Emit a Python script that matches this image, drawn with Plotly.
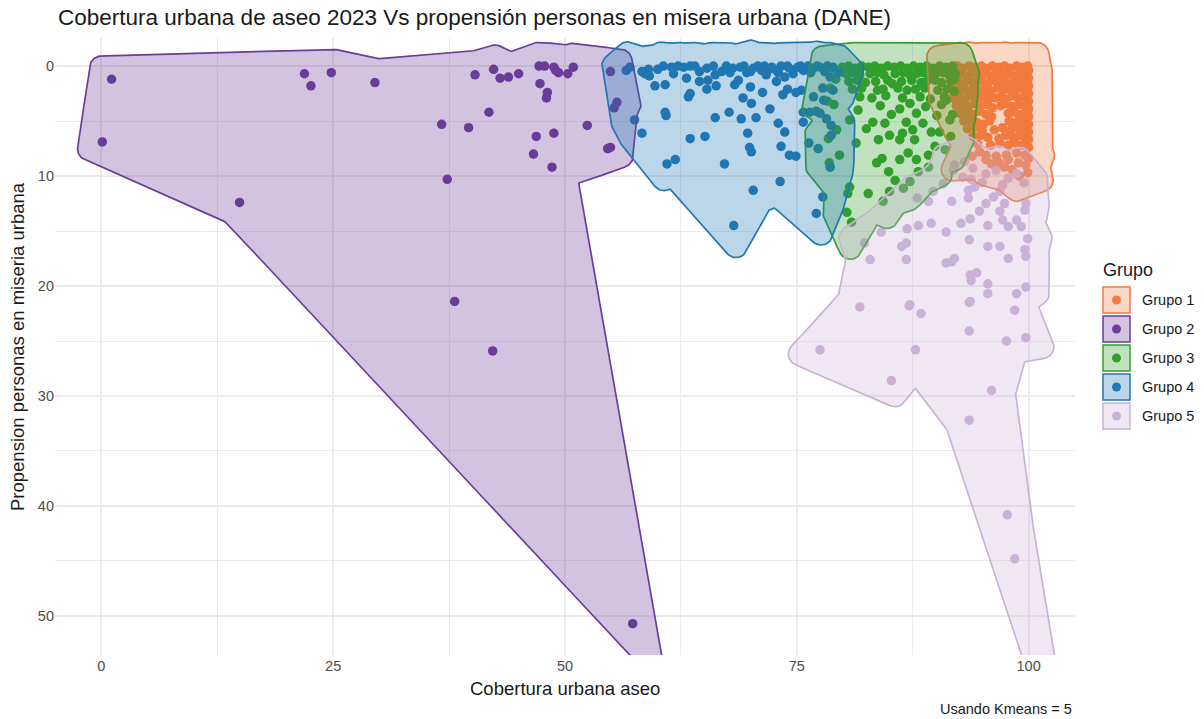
import math
from collections import deque

import numpy as np
import plotly.graph_objects as go

# ---------------------------------------------------------------------------
# Data: (cobertura urbana aseo, propension personas en miseria urbana)
# ---------------------------------------------------------------------------
grupo1 = [
    (91.6, 0.1), (92.3, 0.0), (92.9, 0.2), (93.6, 0.0), (94.2, 0.1), (94.9, 0.0), (95.5, 0.2),
    (96.1, 0.0), (96.8, 0.1), (97.4, 0.0), (98.0, 0.2), (98.7, 0.0), (99.3, 0.1), (99.9, 0.0),
    (100.0, 0.4), (91.9, 0.8), (92.6, 0.7), (93.3, 0.9), (93.9, 0.6), (94.6, 0.8), (95.2, 0.7),
    (95.9, 0.9), (96.5, 0.6), (97.1, 0.8), (97.8, 0.7), (98.4, 0.9), (99.0, 0.6), (99.6, 0.8),
    (100.0, 1.1), (91.7, 1.5), (92.4, 1.4), (93.0, 1.6), (93.7, 1.3), (94.3, 1.5), (95.0, 1.4),
    (95.6, 1.6), (96.3, 1.3), (96.9, 1.5), (97.5, 1.4), (98.2, 1.6), (98.8, 1.3), (99.4, 1.5),
    (100.0, 1.8), (92.0, 2.2), (92.7, 2.1), (93.4, 2.3), (94.0, 2.0), (94.6, 2.2), (95.3, 2.1),
    (95.9, 2.3), (96.6, 2.0), (97.2, 2.2), (97.8, 2.1), (98.5, 2.3), (99.1, 2.0), (99.7, 2.2),
    (100.0, 2.5), (91.8, 2.9), (92.5, 2.8), (93.2, 3.0), (93.8, 2.7), (94.4, 2.9), (95.1, 2.8),
    (95.7, 3.0), (96.4, 2.9), (97.0, 2.8), (97.6, 3.0), (98.3, 2.7), (98.9, 2.9), (99.5, 2.8),
    (100.0, 3.2), (92.2, 3.6), (92.9, 3.5), (93.5, 3.7), (94.2, 3.4), (94.8, 3.6), (95.5, 3.5),
    (96.1, 3.8), (97.0, 3.6), (97.6, 3.4), (98.3, 3.7), (98.9, 3.5), (99.6, 3.6), (100.0, 3.9),
    (92.6, 4.3), (93.3, 4.2), (94.0, 4.4), (94.7, 4.1), (95.4, 4.4), (96.0, 4.6), (97.8, 4.3),
    (98.5, 4.2), (99.1, 4.4), (99.7, 4.1), (100.0, 4.6), (93.0, 5.0), (93.7, 4.9), (94.4, 5.1),
    (95.1, 5.3), (95.8, 5.0), (97.9, 5.0), (98.4, 5.2), (99.0, 4.9), (99.6, 5.1), (100.0, 5.3),
    (93.4, 5.7), (94.2, 5.6), (95.0, 5.9), (96.3, 5.8), (97.2, 5.6), (98.1, 5.8), (98.8, 5.6),
    (99.4, 5.8), (100.0, 6.0), (94.0, 6.4), (94.8, 6.3), (95.6, 6.5), (96.8, 6.6), (97.5, 6.3),
    (98.3, 6.5), (99.0, 6.3), (99.6, 6.5), (100.0, 6.7), (94.5, 7.1), (95.9, 7.2), (96.9, 7.0),
    (97.8, 7.2), (98.6, 7.0), (99.3, 7.2), (100.0, 7.4), (94.7, 7.8), (95.4, 8.1), (96.5, 8.2),
    (97.6, 8.1), (98.7, 7.9), (99.6, 8.1), (100.0, 8.4), (93.9, 8.2), (95.4, 8.5), (96.8, 8.8),
    (97.8, 8.5), (98.9, 8.8), (99.7, 9.0), (96.0, 8.9), (98.2, 9.4), (99.0, 10.0), (99.9, 9.7),
    (97.4, 9.2),
]

grupo2 = [
    (0.1, 6.9), (1.1, 1.2), (14.9, 12.4), (21.9, 0.7), (22.6, 1.8), (24.8, 0.6), (29.5, 1.5),
    (36.7, 5.3), (37.3, 10.3), (38.1, 21.4), (39.6, 5.6), (40.3, 0.8), (41.8, 4.2), (42.2, 25.9),
    (42.3, 0.3), (43.0, 1.1), (43.9, 1.0), (45.0, 0.7), (46.6, 8.0), (46.9, 6.4), (47.2, 0.0),
    (47.8, 0.0), (47.3, 1.6), (48.1, 2.4), (48.0, 2.9), (48.6, 9.2), (48.8, 6.1), (48.8, 0.1),
    (49.0, 0.4), (49.3, 0.6), (50.3, 0.7), (50.9, 0.1), (52.4, 5.4), (54.6, 7.5), (54.9, 7.4),
    (54.9, 0.5), (55.3, 3.8), (55.6, 3.3), (57.3, 50.7),
]

grupo3 = [
    (79.9, 0.1), (80.6, 0.0), (81.3, 0.2), (82.0, 0.0), (82.7, 0.1), (83.4, 0.0), (84.1, 0.2),
    (84.8, 0.0), (85.5, 0.1), (86.2, 0.0), (86.9, 0.2), (87.6, 0.0), (88.3, 0.1), (89.0, 0.0),
    (89.7, 0.2), (90.4, 0.0), (91.1, 0.1), (91.8, 0.0), (80.3, 0.7), (81.0, 0.6),
    (81.8, 0.8), (82.9, 0.7), (83.7, 0.6), (84.4, 0.8), (85.6, 0.7), (86.5, 0.6), (87.2, 0.8),
    (87.9, 0.7), (88.6, 0.6), (89.3, 0.8), (90.0, 0.7), (90.8, 0.6), (91.4, 0.8), (92.1, 0.7),
    (80.6, 1.4), (81.5, 1.3), (82.4, 1.5), (83.5, 1.4), (84.8, 1.3), (85.3, 1.6), (86.3, 1.4),
    (87.4, 1.3), (88.4, 1.5), (89.0, 1.4), (89.9, 1.3), (90.6, 1.5), (91.6, 1.4), (92.0, 1.2),
    (81.0, 2.1), (82.0, 2.0), (83.7, 2.2), (84.3, 2.1), (85.9, 2.0), (86.9, 2.2), (87.8, 2.1),
    (88.8, 2.0), (90.2, 2.2), (91.2, 2.1), (92.0, 2.3), (81.8, 2.8), (83.1, 2.9), (84.6, 2.7),
    (86.4, 2.9), (87.2, 3.4), (88.3, 2.8), (89.4, 3.0), (90.9, 2.8), (91.1, 3.1), (81.6, 4.0),
    (80.7, 4.9), (83.2, 5.1), (84.5, 5.2), (82.5, 5.7), (86.1, 3.9), (87.9, 4.3), (86.8, 5.1),
    (86.4, 6.1), (87.5, 5.8), (88.6, 5.2), (89.5, 6.0), (81.4, 7.0), (83.8, 6.7), (85.0, 6.3),
    (86.1, 6.7), (87.7, 6.7), (84.2, 8.4), (83.6, 8.8), (84.9, 9.6), (86.1, 8.5), (87.0, 7.9),
    (90.4, 6.0), (91.5, 4.9), (90.1, 4.5), (91.8, 4.4), (82.7, 11.6), (80.7, 11.0), (80.5, 11.6),
    (80.4, 13.3), (79.6, 8.1), (85.6, 10.4), (86.5, 11.1), (87.2, 10.5), (85.0, 11.4), (84.3, 12.3),
    (88.1, 9.6), (89.2, 9.2), (87.9, 8.5), (89.2, 8.1), (80.9, 14.2), (79.3, 5.8), (79.0, 3.5),
    (78.6, 2.0), (79.2, 1.2), (84.0, 3.6), (85.2, 4.4), (88.9, 3.7), (90.6, 3.5), (89.9, 7.3),
    (91.0, 7.6), (91.6, 6.4), (78.9, 0.2), (78.3, 3.2), (78.4, 6.6), (78.5, 8.8),
]

grupo4 = [
    (56.6, 0.4), (57.0, 0.1), (58.3, 0.5), (58.6, 0.7), (59.0, 0.3), (59.1, 0.9), (60.0, 0.3),
    (60.6, 0.0), (61.5, 0.1), (61.7, 0.7), (62.2, 0.0), (62.8, 0.1), (63.5, 0.0), (63.1, 1.1),
    (64.0, 0.0), (64.5, 0.5), (65.3, 0.2), (65.4, 1.3), (66.0, 0.0), (66.2, 0.8), (66.9, 0.5),
    (67.4, 0.0), (67.8, 0.6), (68.1, 0.2), (68.9, 0.1), (68.7, 1.3), (69.3, 0.0), (69.6, 0.6),
    (70.0, 0.5), (70.3, 0.2), (70.8, 0.0), (71.2, 0.4), (71.5, 0.0), (71.7, 0.8), (72.0, 0.3),
    (72.3, 0.1), (72.8, 0.4), (73.0, 0.6), (73.3, 0.0), (73.7, 1.0), (74.0, 0.0), (74.2, 0.2),
    (74.6, 0.7), (75.1, 0.1), (75.4, 0.0), (75.7, 0.4), (76.2, 0.0), (76.5, 0.6), (76.8, 0.2),
    (77.2, 0.0), (77.5, 0.1), (78.0, 0.5), (78.3, 0.0), (78.6, 1.0), (78.9, 0.1), (79.5, 0.6),
    (59.7, 1.8), (60.8, 1.7), (63.5, 2.5), (63.3, 2.8), (64.5, 1.4), (65.3, 2.1), (66.3, 1.8),
    (68.3, 1.7), (70.0, 1.9), (71.3, 2.4), (72.8, 1.4), (73.5, 2.6), (74.0, 2.1), (74.9, 2.4),
    (75.5, 2.2), (77.8, 2.0), (78.9, 2.2), (69.2, 2.9), (70.1, 3.4), (76.8, 2.8), (77.9, 3.1),
    (69.0, 4.8), (66.2, 4.7), (67.7, 4.2), (70.6, 4.7), (72.1, 3.9), (73.0, 5.2), (73.7, 6.0),
    (75.7, 4.2), (75.7, 5.1), (69.7, 6.1), (60.8, 4.2), (60.9, 4.5), (57.5, 4.9), (58.3, 6.1),
    (63.5, 6.6), (65.1, 6.4), (61.0, 8.9), (61.9, 8.5), (67.2, 8.9), (70.1, 7.8), (69.9, 7.4),
    (73.3, 7.3), (74.2, 8.1), (74.9, 8.2), (73.2, 10.5), (70.3, 11.3), (68.2, 14.5), (77.1, 13.4),
    (77.8, 11.9), (76.3, 7.0), (77.3, 7.5), (78.6, 9.2), (76.4, 4.2), (77.5, 4.3), (78.2, 4.8),
    (77.1, 4.1), (78.7, 5.4), (78.7, 6.3),
]

grupo5 = [
    (92.0, 9.0), (91.9, 9.5), (90.8, 10.7), (89.7, 11.4), (88.0, 12.0), (89.2, 12.3), (91.7, 12.3),
    (92.9, 10.1), (93.8, 10.3), (93.5, 11.3), (93.5, 12.0), (94.7, 13.2), (95.4, 12.5), (96.2, 11.9),
    (96.9, 11.4), (97.2, 10.8), (97.4, 12.5), (96.9, 13.2), (97.2, 14.0), (97.8, 14.6), (98.7, 14.0),
    (99.2, 14.6), (99.6, 13.1), (99.7, 12.5), (99.9, 15.7), (99.6, 16.7), (99.7, 17.3), (97.8, 17.5),
    (96.9, 16.4), (95.6, 16.4), (95.6, 14.5), (93.7, 13.9), (92.7, 14.3), (93.6, 15.8), (91.1, 15.1),
    (89.5, 14.3), (88.1, 14.5), (86.9, 14.8), (86.8, 16.1), (86.3, 16.4), (84.1, 15.1), (82.3, 16.1),
    (82.9, 17.6), (86.8, 17.6), (91.1, 17.9), (91.7, 17.8), (92.0, 17.5), (93.7, 19.0), (94.4, 18.8),
    (93.8, 19.5), (95.6, 19.8), (95.6, 20.7), (93.7, 21.4), (98.7, 20.7), (99.7, 20.1), (87.2, 21.7),
    (81.8, 21.9), (87.1, 21.8), (88.4, 22.5), (93.6, 21.5), (98.5, 22.2), (93.6, 24.1), (97.6, 25.0),
    (99.7, 24.7), (77.5, 25.8), (87.8, 25.8), (85.2, 28.6), (96.0, 29.5), (93.6, 32.2), (97.7, 40.8),
    (98.5, 44.8), (93.1, 8.7), (94.0, 9.3), (95.4, 9.8), (96.5, 9.5), (97.8, 10.2), (98.7, 9.8),
    (99.5, 10.6), (95.0, 10.6), (94.2, 11.0),
]

GROUP_NAMES = ["Grupo 1", "Grupo 2", "Grupo 3", "Grupo 4", "Grupo 5"]
GROUP_POINTS = [grupo1, grupo2, grupo3, grupo4, grupo5]
GROUP_COLORS = ["#F37A3F", "#6A3D9A", "#33A02C", "#1F78B4", "#CAB2D6"]

X_TICKS = [0, 25, 50, 75, 100]
Y_TICKS = [0, 10, 20, 30, 40, 50]

TITLE = "Cobertura urbana de aseo 2023 Vs propensión personas en misera urbana (DANE)"
X_TITLE = "Cobertura urbana aseo"
Y_TITLE = "Propension personas en miseria urbana"
CAPTION = "Usando Kmeans = 5"
LEGEND_TITLE = "Grupo"

# ---------------------------------------------------------------------------
# Page geometry
# ---------------------------------------------------------------------------
W, H = 1204, 719
ML, MR, MT, MB = 55, 129, 38, 64
PW, PH = W - ML - MR, H - MT - MB
X_RANGE = [-5.0, 105.0]
Y_RANGE = [53.55, -2.55]          # reversed axis
SX = PW / (X_RANGE[1] - X_RANGE[0])
SY = PH / (Y_RANGE[0] - Y_RANGE[1])

# panel limits in the (px, y-up) frame used for hull geometry
PX0, PX1 = X_RANGE[0] * SX, X_RANGE[1] * SX
PY0, PY1 = -Y_RANGE[0] * SY, -Y_RANGE[1] * SY

EXPAND = 23.5     # hull expansion (px)
RADIUS = 11.8     # hull corner radius (px)
CONCAVITY = 2.0
GRID_STEP = 1.25
FONT = "Liberation Sans, Arial, sans-serif"


def paper(px, py):
    return (px - ML) / PW, (H - MB - py) / PH


def rgba(hex_color, a):
    h = hex_color.lstrip("#")
    r, g, b = (int(h[i:i + 2], 16) for i in (0, 2, 4))
    return f"rgba({r},{g},{b},{a})"


# ---------------------------------------------------------------------------
# Concave hull (concaveman style)
# ---------------------------------------------------------------------------
def seg_dist2(Q, a, b):
    ab = b - a
    L = float(ab @ ab)
    if L <= 0:
        d = Q - a
        return (d * d).sum(1)
    t = np.clip(((Q - a) @ ab) / L, 0.0, 1.0)
    d = Q - (a + t[:, None] * ab)
    return (d * d).sum(1)


def convex_hull(P):
    order = sorted(range(len(P)), key=lambda i: (P[i][0], P[i][1]))

    def cross(o, a, b):
        return (P[a][0] - P[o][0]) * (P[b][1] - P[o][1]) - (P[a][1] - P[o][1]) * (P[b][0] - P[o][0])

    lower, upper = [], []
    for i in order:
        while len(lower) >= 2 and cross(lower[-2], lower[-1], i) <= 0:
            lower.pop()
        lower.append(i)
    for i in reversed(order):
        while len(upper) >= 2 and cross(upper[-2], upper[-1], i) <= 0:
            upper.pop()
        upper.append(i)
    return lower[:-1] + upper[:-1]


def crosses(p, q, skip, S0, S1, I0, I1):
    m = (I0 != skip) & (I1 != skip)
    if not m.any():
        return False
    A, B = S0[m], S1[m]
    o1 = (B[:, 0] - A[:, 0]) * (p[1] - A[:, 1]) - (B[:, 1] - A[:, 1]) * (p[0] - A[:, 0])
    o2 = (B[:, 0] - A[:, 0]) * (q[1] - A[:, 1]) - (B[:, 1] - A[:, 1]) * (q[0] - A[:, 0])
    o3 = (q[0] - p[0]) * (A[:, 1] - p[1]) - (q[1] - p[1]) * (A[:, 0] - p[0])
    o4 = (q[0] - p[0]) * (B[:, 1] - p[1]) - (q[1] - p[1]) * (B[:, 0] - p[0])
    return bool(np.any(((o1 > 0) != (o2 > 0)) & ((o3 > 0) != (o4 > 0))))


def concave_hull(P, concavity=CONCAVITY):
    n = len(P)
    hull = convex_hull(P)
    nxt, prv = {}, {}
    for k, h in enumerate(hull):
        nxt[h] = hull[(k + 1) % len(hull)]
        prv[h] = hull[k - 1]
    free = np.ones(n, bool)
    free[hull] = False
    queue = deque(hull)
    sqc = concavity ** 2
    while queue:
        ai = queue.popleft()
        bi = nxt[ai]
        a, b = P[ai], P[bi]
        maxsq = float(((b - a) ** 2).sum()) / sqc
        cand = np.nonzero(free)[0]
        if cand.size == 0:
            break
        dist = seg_dist2(P[cand], a, b)
        keep = dist <= maxsq
        cand, dist = cand[keep], dist[keep]
        if cand.size == 0:
            continue
        d0 = seg_dist2(P[cand], P[prv[ai]], a)
        d1 = seg_dist2(P[cand], b, P[nxt[bi]])
        ok = (dist < d0) & (dist < d1)
        cand, dist = cand[ok], dist[ok]
        if cand.size == 0:
            continue
        ids = [ai]
        j = nxt[ai]
        while j != ai:
            ids.append(j)
            j = nxt[j]
        I0 = np.array(ids)
        I1 = np.array([nxt[i] for i in ids])
        S0, S1 = P[I0], P[I1]
        found = None
        for k in np.argsort(dist, kind="stable"):
            pi = cand[k]
            p = P[pi]
            if not crosses(a, p, ai, S0, S1, I0, I1) and not crosses(b, p, bi, S0, S1, I0, I1):
                found = pi
                break
        if found is None:
            continue
        p = P[found]
        if min(((p - a) ** 2).sum(), ((p - b) ** 2).sum()) <= maxsq:
            nxt[ai] = found
            prv[found] = ai
            nxt[found] = bi
            prv[bi] = found
            free[found] = False
            queue.append(ai)
            queue.append(found)
    out = [hull[0]]
    j = nxt[hull[0]]
    while j != hull[0]:
        out.append(j)
        j = nxt[j]
    return out


# ---------------------------------------------------------------------------
# Expanded outline: miter expansion + rounded corners, traced as an iso-line
# ---------------------------------------------------------------------------
def poly_dist_inside(G, poly):
    n = len(poly)
    dmin = np.full(len(G), np.inf)
    inside = np.zeros(len(G), bool)
    gx, gy = G[:, 0], G[:, 1]
    with np.errstate(divide="ignore", invalid="ignore"):
        for i in range(n):
            a, b = poly[i], poly[(i + 1) % n]
            dmin = np.minimum(dmin, seg_dist2(G, a, b))
            cond = (a[1] > gy) != (b[1] > gy)
            xint = a[0] + (gy - a[1]) * (b[0] - a[0]) / (b[1] - a[1])
            inside ^= cond & (gx < xint)
    return np.sqrt(dmin), inside


def iso_loops(Z, xs, ys):
    ins = Z < 0
    c0, c1, c2, c3 = ins[:-1, :-1], ins[:-1, 1:], ins[1:, 1:], ins[1:, :-1]
    code = c0 * 1 + c1 * 2 + c2 * 4 + c3 * 8
    js, iis = np.nonzero((code != 0) & (code != 15))
    adj = {}

    def link(e1, e2):
        adj.setdefault(e1, []).append(e2)
        adj.setdefault(e2, []).append(e1)

    for j, i in zip(js.tolist(), iis.tolist()):
        cd = code[j, i]
        B, R, T, L = ("h", j, i), ("v", j, i + 1), ("h", j + 1, i), ("v", j, i)
        if cd in (5, 10):
            centre = (Z[j, i] + Z[j, i + 1] + Z[j + 1, i + 1] + Z[j + 1, i]) / 4 < 0
            if (cd == 5) == centre:
                link(B, R)
                link(L, T)
            else:
                link(L, B)
                link(R, T)
            continue
        es = []
        if c0[j, i] != c1[j, i]:
            es.append(B)
        if c1[j, i] != c2[j, i]:
            es.append(R)
        if c3[j, i] != c2[j, i]:
            es.append(T)
        if c0[j, i] != c3[j, i]:
            es.append(L)
        link(es[0], es[1])

    def pt(e):
        kind, j, i = e
        if kind == "h":
            za, zb = Z[j, i], Z[j, i + 1]
            t = za / (za - zb)
            return xs[i] + t * (xs[i + 1] - xs[i]), ys[j]
        za, zb = Z[j, i], Z[j + 1, i]
        t = za / (za - zb)
        return xs[i], ys[j] + t * (ys[j + 1] - ys[j])

    loops, seen = [], set()
    for start in adj:
        if start in seen:
            continue
        loop, prev, cur = [start], None, start
        seen.add(start)
        while True:
            nx_ = None
            for e in adj[cur]:
                if e != prev and e not in seen:
                    nx_ = e
                    break
            if nx_ is None:
                break
            seen.add(nx_)
            loop.append(nx_)
            prev, cur = cur, nx_
        if len(loop) > 3:
            loops.append(np.array([pt(e) for e in loop]))
    return loops


def hull_path(points):
    xy = np.array(points, float)
    P = np.column_stack([xy[:, 0] * SX, -xy[:, 1] * SY])
    poly = P[concave_hull(P)]
    area = 0.5 * np.sum(poly[:, 0] * np.roll(poly[:, 1], -1) - np.roll(poly[:, 0], -1) * poly[:, 1])
    if area < 0:
        poly = poly[::-1]

    # miter corners (expansion EXPAND - RADIUS) at convex vertices
    w = EXPAND - RADIUS
    kites = []
    n = len(poly)
    for i in range(n):
        v, a, b = poly[i], poly[i - 1], poly[(i + 1) % n]
        t1, t2 = v - a, b - v
        l1, l2 = np.hypot(*t1), np.hypot(*t2)
        if l1 < 1e-9 or l2 < 1e-9:
            continue
        t1, t2 = t1 / l1, t2 / l2
        if t1[0] * t2[1] - t1[1] * t2[0] > 0 and t1 @ t2 < math.cos(math.radians(15)):
            n1 = np.array([t1[1], -t1[0]])
            n2 = np.array([t2[1], -t2[0]])
            m = v + w * (n1 + n2) / max(1.0 + n1 @ n2, 1e-3)
            kites.append(np.array([v, v + w * n1, m, v + w * n2]))

    allp = np.vstack([poly] + kites)
    x0 = max(allp[:, 0].min() - EXPAND - 6, PX0 - 8)
    x1 = min(allp[:, 0].max() + EXPAND + 6, PX1 + 8)
    y0 = max(allp[:, 1].min() - EXPAND - 6, PY0 - 8)
    y1 = min(allp[:, 1].max() + EXPAND + 6, PY1 + 8)
    xs = np.arange(x0, x1 + GRID_STEP, GRID_STEP)
    ys = np.arange(y0, y1 + GRID_STEP, GRID_STEP)
    GX, GY = np.meshgrid(xs, ys)
    G = np.column_stack([GX.ravel(), GY.ravel()])

    d, ins = poly_dist_inside(G, poly)
    f = np.where(ins, -d - EXPAND, d - EXPAND)
    for K in kites:
        dk, ik = poly_dist_inside(G, K)
        f = np.minimum(f, np.where(ik, -dk - RADIUS, dk - RADIUS))
    Z = f.reshape(GX.shape)
    Z[0, :] = Z[-1, :] = 1.0
    Z[:, 0] = Z[:, -1] = 1.0

    hx, hy = [], []
    for lp in iso_loops(Z, xs, ys):
        lp = np.vstack([lp, lp[:1]])
        hx += (lp[:, 0] / SX).tolist() + [None]
        hy += (-lp[:, 1] / SY).tolist() + [None]
    return hx, hy


# ---------------------------------------------------------------------------
# Figure
# ---------------------------------------------------------------------------
fig = go.Figure()

for name, pts, col in zip(GROUP_NAMES, GROUP_POINTS, GROUP_COLORS):
    fig.add_trace(go.Scatter(
        x=[p[0] for p in pts], y=[p[1] for p in pts], mode="markers", name=name,
        marker=dict(size=9.5, color=col, line=dict(width=0)),
        showlegend=False, hoverinfo="skip",
    ))

for name, pts, col in zip(GROUP_NAMES, GROUP_POINTS, GROUP_COLORS):
    hx, hy = hull_path(pts)
    fig.add_trace(go.Scatter(
        x=hx, y=hy, mode="lines", fill="toself", fillcolor=rgba(col, 0.3),
        line=dict(color=col, width=1.7), name=name, showlegend=False, hoverinfo="skip",
    ))

grid = "#EBEBEB"
axis_common = dict(
    showgrid=True, gridcolor=grid, gridwidth=1.6, zeroline=False, showline=False,
    ticks="", tickfont=dict(size=14.5, color="#4D4D4D", family=FONT),
)
fig.update_layout(
    width=W, height=H,
    margin=dict(l=ML, r=MR, t=MT, b=MB, autoexpand=False),
    plot_bgcolor="white", paper_bgcolor="white",
    showlegend=False,
    font=dict(family=FONT, color="#1A1A1A"),
    xaxis=dict(
        range=X_RANGE, tickvals=X_TICKS, ticktext=[str(v) for v in X_TICKS],
        minor=dict(tickvals=[12.5, 37.5, 62.5, 87.5], showgrid=True, gridcolor=grid, gridwidth=0.9),
        **axis_common,
    ),
    yaxis=dict(
        range=Y_RANGE, tickvals=Y_TICKS, ticktext=[str(v) for v in Y_TICKS],
        minor=dict(tickvals=[5, 15, 25, 35, 45], showgrid=True, gridcolor=grid, gridwidth=0.9),
        **axis_common,
    ),
)

ann = []


def text_at(px, py, s, size, xanchor="left", color="#1A1A1A", angle=0):
    x, y = paper(px, py)
    ann.append(dict(x=x, y=y, xref="paper", yref="paper", text=s, showarrow=False,
                    xanchor=xanchor, yanchor="middle", textangle=angle,
                    font=dict(size=size, color=color, family=FONT)))


text_at(56, 17, TITLE, 22.5)
text_at(565, 688, X_TITLE, 18.5, xanchor="center")
text_at(17, 347, Y_TITLE, 18.5, xanchor="center", angle=-90)
text_at(1074, 709, CAPTION, 14.5, xanchor="right")
text_at(1101, 270, LEGEND_TITLE, 18)

shapes = []
for k, (name, col) in enumerate(zip(GROUP_NAMES, GROUP_COLORS)):
    cy = 300 + 29 * k
    x0, y0 = paper(1103, cy + 13)
    x1, y1 = paper(1130, cy - 13)
    shapes.append(dict(type="rect", xref="paper", yref="paper", x0=x0, y0=y0, x1=x1, y1=y1,
                       fillcolor=rgba(col, 0.3), line=dict(color=col, width=1.5)))
    cx0, cy0 = paper(1116.5 - 4.5, cy + 4.5)
    cx1, cy1 = paper(1116.5 + 4.5, cy - 4.5)
    shapes.append(dict(type="circle", xref="paper", yref="paper", x0=cx0, y0=cy0, x1=cx1, y1=cy1,
                       fillcolor=col, line=dict(width=0)))
    text_at(1140, cy, name, 14.5)

fig.update_layout(annotations=ann, shapes=shapes)

fig.write_html("out.html")
